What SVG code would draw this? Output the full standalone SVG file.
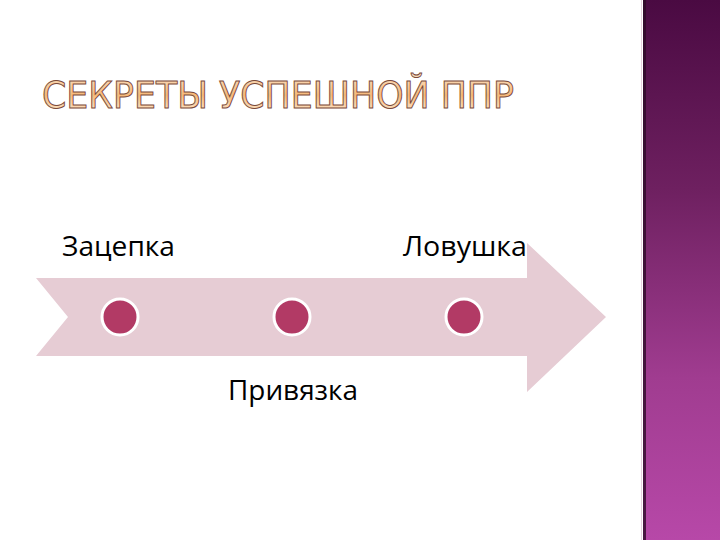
<svg xmlns="http://www.w3.org/2000/svg" width="720" height="540" viewBox="0 0 720 540">
<defs>
<linearGradient id="bar" x1="0" y1="0" x2="0" y2="1">
<stop offset="0" stop-color="#4a0a42"/>
<stop offset="0.35" stop-color="#6e2060"/>
<stop offset="0.7" stop-color="#a03c90"/>
<stop offset="1" stop-color="#b748a8"/>
</linearGradient>
<linearGradient id="title" x1="0" y1="0" x2="0" y2="1">
<stop offset="0" stop-color="#fbe3c8"/>
<stop offset="0.5" stop-color="#f6b97a"/>
<stop offset="1" stop-color="#fff2e0"/>
</linearGradient>
<style>
.lbl{font-family:"Open Sans","DejaVu Sans",sans-serif;font-size:28px;fill:#000}
.dot{fill:#b23a65;stroke:#ffffff;stroke-width:3}
</style>
</defs>
<rect width="720" height="540" fill="#ffffff"/>
<g id="sidebar">
<rect x="643" y="0" width="77" height="540" fill="url(#bar)"/>
<rect x="643" y="0" width="3" height="540" fill="#2e0a28" opacity="0.8"/>
<rect x="641" y="0" width="1" height="540" fill="#e8cfe0"/>
</g>
<g id="title-text">
<text x="42" y="108" font-family="DejaVu Sans, Verdana, sans-serif" font-size="38" fill="url(#title)" stroke="#7a4a3a" stroke-width="1" textLength="472" lengthAdjust="spacingAndGlyphs">СЕКРЕТЫ УСПЕШНОЙ ППР</text>
</g>
<g id="arrow">
<polygon points="36,278 527,278 527,243 606,317 527,392 527,356 36,356 68,317" fill="#e6ccd4"/>
</g>
<g id="connectors"></g>
<g id="node-zacepka">
<circle class="dot" cx="120" cy="317" r="18"/>
<text class="lbl" x="62" y="256" textLength="113" lengthAdjust="spacingAndGlyphs">Зацепка</text>
</g>
<g id="node-privyazka">
<circle class="dot" cx="292" cy="317" r="18"/>
<text class="lbl" x="228" y="400" textLength="130" lengthAdjust="spacingAndGlyphs">Привязка</text>
</g>
<g id="node-lovushka">
<circle class="dot" cx="464" cy="317" r="18"/>
<text class="lbl" x="403" y="256" textLength="124" lengthAdjust="spacingAndGlyphs">Ловушка</text>
</g>
</svg>
